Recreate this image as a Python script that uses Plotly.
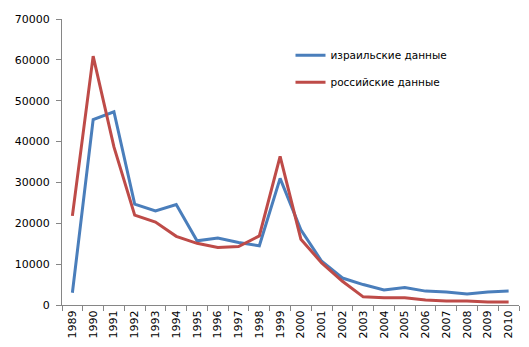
import plotly.graph_objects as go

years = [str(y) for y in range(1989, 2011)]
israeli = [3000, 45400, 47300, 24700, 23000, 24600, 15700, 16400, 15300, 14500, 31000,
           18400, 10700, 6600, 5000, 3700, 4300, 3400, 3200, 2700, 3200, 3400]
russian = [21800, 60900, 38700, 22000, 20300, 16800, 15100, 14100, 14300, 16900, 36400,
           16100, 10300, 5800, 2000, 1800, 1800, 1200, 1000, 1000, 750, 750]
y_ticks = list(range(0, 70001, 10000))
y_labels = [str(v) for v in y_ticks]

fig = go.Figure()
fig.add_trace(go.Scatter(x=years, y=israeli, mode="lines", name="израильские данные",
                         line=dict(color="#4A7EBB", width=3), legendgroup="a"))
fig.add_trace(go.Scatter(x=years, y=russian, mode="lines", name="российские данные",
                         line=dict(color="#BE4B48", width=3), legendgroup="b"))

fig.update_layout(
    width=529, height=347,
    margin=dict(l=62, r=10, t=19, b=42),
    paper_bgcolor="white", plot_bgcolor="white",
    font=dict(family="DejaVu Sans", size=11, color="black"),
    showlegend=True,
    legend=dict(x=0.50, y=0.924, xanchor="left", yanchor="top",
                bgcolor="rgba(0,0,0,0)", font=dict(size=10.5, color="black"),
                itemwidth=30, tracegroupgap=8, traceorder="grouped"),
    xaxis=dict(type="category", tickangle=-90, showgrid=False, showline=True,
               linecolor="#868686", linewidth=1, ticks="outside", ticklen=5,
               tickcolor="#868686", tickson="boundaries", range=[-0.5, 21.5],
               tickfont=dict(size=11)),
    yaxis=dict(range=[0, 70000], tickvals=y_ticks, ticktext=y_labels, showgrid=False,
               showline=True, linecolor="#868686", linewidth=1, ticks="outside",
               ticklen=5, tickcolor="#868686", zeroline=False, ticklabelstandoff=4,
               tickfont=dict(size=11)),
)

fig.write_html("out.html")
